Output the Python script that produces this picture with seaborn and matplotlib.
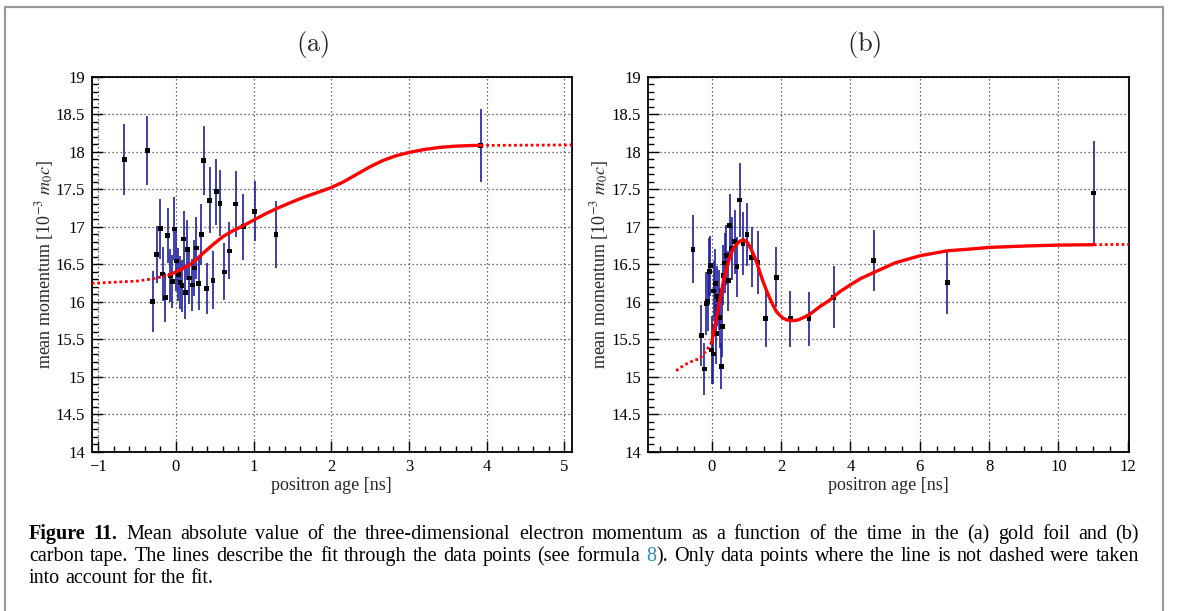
import re
import numpy as np
import pandas as pd
import matplotlib
matplotlib.use("Agg")
import matplotlib.pyplot as plt
import matplotlib.ticker as mticker
import matplotlib.transforms as mtransforms
from matplotlib.patches import Rectangle
import seaborn as sns

# ---------------- data: panel (a) gold foil ----------------
t_a = [-0.665, -0.369, -0.300, -0.249, -0.204, -0.172, -0.137, -0.107, -0.075, -0.045,
       -0.019, 0.002, 0.028, 0.052, 0.078, 0.099, 0.122, 0.148, 0.172, 0.208,
       0.236, 0.260, 0.292, 0.326, 0.356, 0.397, 0.433, 0.476, 0.517, 0.567,
       0.620, 0.689, 0.768, 0.869, 1.015, 1.288, 3.923]
p_a = [17.90, 18.02, 16.00, 16.63, 16.975, 16.37, 16.055, 16.886, 16.352, 16.272,
       16.97, 16.543, 16.361, 16.255, 16.212, 16.836, 16.126, 16.695, 16.316, 16.222,
       16.45, 16.717, 16.242, 16.895, 17.878, 16.171, 17.353, 16.288, 17.465, 17.313,
       16.397, 16.677, 17.302, 17.00, 17.205, 16.898, 18.084]
e_a = [0.475, 0.46, 0.41, 0.38, 0.40, 0.36, 0.33, 0.37, 0.35, 0.35,
       0.42, 0.40, 0.35, 0.35, 0.35, 0.37, 0.35, 0.40, 0.35, 0.35,
       0.37, 0.41, 0.35, 0.41, 0.46, 0.34, 0.44, 0.39, 0.44, 0.44,
       0.38, 0.38, 0.44, 0.44, 0.40, 0.45, 0.49]

# fit curve (a)
fit_a_pre_t = [-1.085, -1.0, -0.5, -0.29, -0.09]
fit_a_pre_p = [16.245, 16.249, 16.275, 16.307, 16.355]
fit_a_t = [-0.09, 0.05, 0.18, 0.27, 0.352, 0.48, 0.609, 0.74, 0.867, 1.013,
           1.15, 1.288, 1.46, 1.639, 1.82, 1.996, 2.16, 2.326, 2.50, 2.67,
           2.83, 3.0, 3.2, 3.4, 3.6, 3.8, 3.923]
fit_a_p = [16.355, 16.42, 16.493, 16.57, 16.649, 16.765, 16.871, 16.95, 17.013, 17.095,
           17.17, 17.238, 17.315, 17.39, 17.455, 17.52, 17.60, 17.698, 17.80, 17.885,
           17.945, 17.99, 18.03, 18.058, 18.074, 18.082, 18.084]
fit_a_post_t = [3.923, 5.095]
fit_a_post_p = [18.084, 18.09]

# ---------------- data: panel (b) carbon tape ----------------
t_b = [-0.54, -0.30, -0.217, -0.164, -0.116, -0.077, -0.039, 0.0, 0.048, 0.053,
       0.10, 0.126, 0.164, 0.203, 0.236, 0.27, 0.304, 0.337, 0.376, 0.424,
       0.477, 0.522, 0.58, 0.657, 0.725, 0.802, 0.899, 1.014, 1.15, 1.333,
       1.556, 1.855, 2.261, 2.802, 3.518, 4.675, 6.797, 11.02]
p_b = [16.70, 15.548, 15.103, 15.977, 16.007, 16.40, 16.48, 15.357, 15.303, 16.142,
       16.247, 15.571, 16.07, 16.025, 15.784, 15.141, 15.664, 16.351, 16.515, 16.62,
       16.278, 17.021, 16.705, 16.799, 16.465, 17.355, 16.777, 16.901, 16.594, 16.528,
       15.776, 16.327, 15.771, 15.771, 16.061, 16.55, 16.261, 17.449]
e_b = [0.45, 0.41, 0.345, 0.42, 0.40, 0.45, 0.40, 0.45, 0.40, 0.40,
       0.45, 0.40, 0.40, 0.40, 0.40, 0.31, 0.40, 0.40, 0.40, 0.40,
       0.40, 0.42, 0.42, 0.43, 0.40, 0.49, 0.42, 0.42, 0.40, 0.42,
       0.38, 0.40, 0.37, 0.36, 0.41, 0.41, 0.42, 0.69]

fit_b_pre_t = [-1.03, -0.79, -0.5, -0.356, -0.26, -0.115, 0.0]
fit_b_pre_p = [15.08, 15.156, 15.222, 15.236, 15.289, 15.378, 15.458]
fit_b_t = [0.0, 0.06, 0.126, 0.2, 0.271, 0.34, 0.415, 0.49, 0.56, 0.63,
           0.705, 0.78, 0.85, 0.89, 0.928, 0.97, 1.043, 1.11, 1.188, 1.26,
           1.333, 1.40, 1.478, 1.57, 1.671, 1.77, 1.865, 1.96, 2.058, 2.15,
           2.251, 2.32, 2.396, 2.47, 2.541, 2.65, 2.802, 2.95, 3.121, 3.27,
           3.411, 3.55, 3.7, 3.85, 4.0, 4.3, 4.675, 5.3, 6.006, 6.797,
           7.4, 8.01, 9.0, 10.008, 11.02]
fit_b_p = [15.458, 15.61, 15.758, 15.94, 16.114, 16.28, 16.425, 16.55, 16.648, 16.715,
           16.759, 16.795, 16.817, 16.822, 16.821, 16.812, 16.781, 16.72, 16.648, 16.565,
           16.47, 16.375, 16.27, 16.16, 16.047, 15.95, 15.869, 15.82, 15.78, 15.76,
           15.749, 15.748, 15.749, 15.755, 15.767, 15.79, 15.825, 15.875, 15.936, 15.98,
           16.025, 16.08, 16.136, 16.18, 16.226, 16.31, 16.39, 16.52, 16.613, 16.679,
           16.70, 16.724, 16.742, 16.755, 16.76]
fit_b_post_t = [11.02, 12.02]
fit_b_post_p = [16.76, 16.764]

titles = ["(a)", "(b)"]
xlabel = "positron age [ns]"
ylabel = r"mean momentum [10$^{-3}$ $m_{0}c$]"

# ---------------- style ----------------
sns.set_style("ticks")
plt.rcParams["font.family"] = ["Liberation Serif", "DejaVu Serif"]
plt.rcParams["mathtext.fontset"] = "stix"
plt.rcParams["axes.unicode_minus"] = True

W, H = 1179, 611
fig = plt.figure(figsize=(W / 100, H / 100), dpi=100)
fig.patch.set_facecolor("white")

ERR_COL = "#1e1e9c"


def px_axes(l, r, t, b):
    return fig.add_axes([l / W, 1 - b / H, (r - l) / W, (b - t) / H])


def fmt(v, pos):
    s = "%g" % v
    return s.replace("-", "\u2212")


def style_axes(ax, xlim, xmajor, xminor):
    ax.set_xlim(*xlim)
    ax.set_ylim(14, 19)
    ax.xaxis.set_major_locator(mticker.MultipleLocator(xmajor))
    ax.xaxis.set_minor_locator(mticker.MultipleLocator(xminor))
    ax.yaxis.set_major_locator(mticker.MultipleLocator(0.5))
    ax.yaxis.set_minor_locator(mticker.MultipleLocator(0.1))
    ax.xaxis.set_major_formatter(mticker.FuncFormatter(fmt))
    ax.yaxis.set_major_formatter(mticker.FuncFormatter(fmt))
    ax.tick_params(which="both", direction="in", top=False, right=False,
                   labelsize=12, colors="black", width=1.0)
    ax.tick_params(which="major", length=8, pad=5)
    ax.tick_params(which="minor", length=4.5)
    ax.grid(True, which="major", linestyle=(0, (1, 2.2)), color="#3a3a3a", linewidth=0.9)
    for sp in ax.spines.values():
        sp.set_linewidth(1.3)
        sp.set_color("black")
        sp.set_visible(True)
    ax.set_xlabel(xlabel, fontsize=13)
    ax.set_ylabel(ylabel, fontsize=13)


def draw_panel(ax, t, p, e, pre_t, pre_p, fit_t, fit_p, post_t, post_p):
    df = pd.DataFrame({"t": t, "p": p, "e": e})
    ax.errorbar(df["t"], df["p"], yerr=df["e"], fmt="none", ecolor=ERR_COL,
                elinewidth=1.4, capsize=0, zorder=2, alpha=0.85)
    sns.scatterplot(data=df, x="t", y="p", ax=ax, marker="s", s=12, color="black",
                    edgecolor="none", zorder=4, legend=False)
    sns.lineplot(x=fit_t, y=fit_p, ax=ax, sort=False, estimator=None, color="#ff0000",
                 linewidth=2.4, zorder=5)
    for tt, pp in ((pre_t, pre_p), (post_t, post_p)):
        sns.lineplot(x=tt, y=pp, ax=ax, sort=False, estimator=None, color="#ff0000",
                     linewidth=2.0, linestyle=(0, (1, 1)), zorder=5)


ax_a = px_axes(91.7, 571.7, 76.7, 451.7)
draw_panel(ax_a, t_a, p_a, e_a, fit_a_pre_t, fit_a_pre_p, fit_a_t, fit_a_p,
           fit_a_post_t, fit_a_post_p)
style_axes(ax_a, (-1.085, 5.095), 1, 0.2)

ax_b = px_axes(648, 1128.5, 76.7, 451.7)
draw_panel(ax_b, t_b, p_b, e_b, fit_b_pre_t, fit_b_pre_p, fit_b_t, fit_b_p,
           fit_b_post_t, fit_b_post_p)
style_axes(ax_b, (-1.84, 12.02), 2, 0.5)

for ax, lab_x in ((ax_a, -0.098), (ax_b, -0.101)):
    ax.yaxis.set_label_coords(lab_x, 0.5)
    ax.yaxis.label.set_va("center")
    ax.xaxis.set_label_coords(0.5, -(486 - 451.7) / 375)
    ax.xaxis.label.set_va("center")

# panel titles
for title, cx in zip(titles, (313, 864)):
    fig.text(cx / W, 1 - 45 / H, r"$\mathrm{" + title + "}$", ha="center", va="center",
             fontsize=19, math_fontfamily="cm")

# outer frame
fig.add_artist(Rectangle((5 / W, -0.05), (1163 - 5) / W, 1.05 - 7 / H,
                         transform=fig.transFigure, fill=False,
                         edgecolor="#9a9a9a", linewidth=1.6))

# caption (justified lines)
cap_lines = [
    [("Figure 11.", "bold", "black"),
     (" Mean absolute value of the three-dimensional electron momentum as a function of the time in the (a) gold foil and (b)", "normal", "black")],
    [("carbon tape. The lines describe the fit through the data points (see formula ", "normal", "black"),
     ("8", "normal", "#2a8bc4"),
     ("). Only data points where the line is not dashed were taken", "normal", "black")],
    [("into account for the fit.", "normal", "black")],
]
justify = [True, True, False]
baselines = [539, 561, 583]
CAP_FS = 14.5
X_LEFT, X_RIGHT = 29, 1139
renderer = fig.canvas.get_renderer()
ident = mtransforms.IdentityTransform()

probe1 = fig.text(0, 0, "a a", fontsize=CAP_FS, transform=ident)
probe2 = fig.text(0, 0, "aa", fontsize=CAP_FS, transform=ident)
nat_space = probe1.get_window_extent(renderer).width - probe2.get_window_extent(renderer).width
probe1.remove()
probe2.remove()

for pieces, yb, just in zip(cap_lines, baselines, justify):
    toks = []
    pending = False
    for s, wgt, col in pieces:
        for m in re.finditer(r"(\s*)(\S+)", s):
            toks.append([m.group(2), wgt, col, pending or len(m.group(1)) > 0])
            pending = False
        pending = s[-1].isspace()
    toks[0][3] = False
    texts, widths = [], []
    for word, wgt, col, sp in toks:
        tx = fig.text(0, H - yb, word, transform=ident, va="baseline", ha="left",
                      fontsize=CAP_FS, fontweight=wgt, color=col)
        widths.append(tx.get_window_extent(renderer).width)
        texts.append(tx)
    ngaps = sum(1 for tk in toks if tk[3])
    gap = (X_RIGHT - X_LEFT - sum(widths)) / ngaps if just else nat_space
    x = X_LEFT
    for tx, w, tk in zip(texts, widths, toks):
        if tk[3]:
            x += gap
        tx.set_x(x)
        x += w

fig.savefig("out.png", dpi=100)
